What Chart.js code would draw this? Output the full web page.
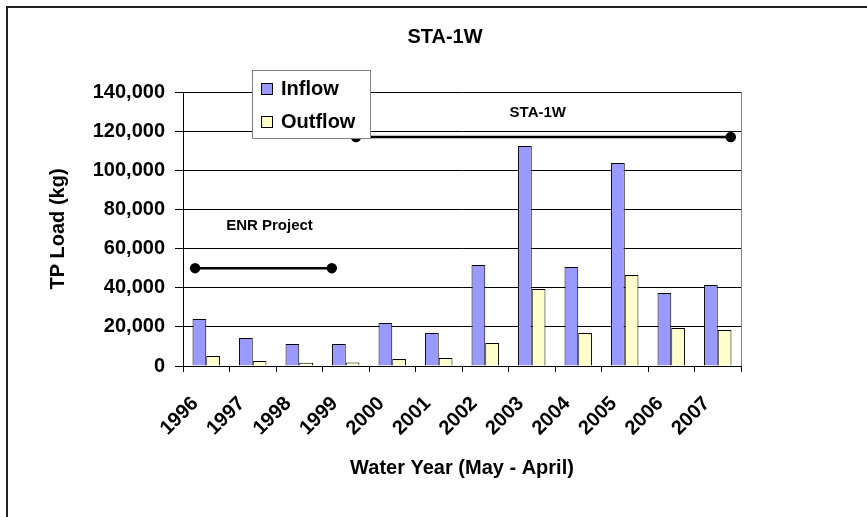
<!DOCTYPE html>
<html>
<head>
<meta charset="utf-8">
<script src="https://cdn.jsdelivr.net/npm/chart.js@4"></script>
<style>
  body { margin: 0; background: #fff; }
  #wrap { width: 867px; height: 517px; }
</style>
</head>
<body>
<div id="wrap"><canvas id="stachart" width="867" height="517"></canvas></div>
<script>
// water years (May - April)
const years = ['1996', '1997', '1998', '1999', '2000', '2001', '2002', '2003', '2004', '2005', '2006', '2007'];
// TP load in kg
const inflow = [24000, 14300, 11200, 11200, 22000, 16900, 51600, 112400, 50600, 103700, 37300, 41400];
const outflow = [5100, 2600, 1700, 1800, 3600, 4100, 11800, 39300, 16900, 46500, 19400, 18400];

// period bars drawn over the chart (x in water years, y in kg)
const enrPeriod = [{x: 1995.76, y: 50000}, {x: 1998.7, y: 50000}];
const staPeriod = [{x: 1999.22, y: 117000}, {x: 2007.28, y: 117000}];
const periodLabels = [
  {text: 'ENR Project', x: 1997.36, y: 71500},
  {text: 'STA-1W', x: 2003.13, y: 129300}
];

const yTicks = [0, 20000, 40000, 60000, 80000, 100000, 120000, 140000];

const FONT = 'Arial, "Liberation Sans", sans-serif';

// year -> position on the category axis (1996 sits at index 0)
const yearIdx = yr => yr - Number(years[0]);
const onAxis = pts => pts.map(p => ({x: yearIdx(p.x), y: p.y}));

// frame, title, legend box and the period labels
const extras = {
  id: 'extras',
  afterDraw(chart) {
    const c = chart.ctx;
    const a = chart.chartArea;
    c.save();
    // outer frame (left + top only, rest is cut off in the original)
    c.strokeStyle = '#222';
    c.lineWidth = 2;
    c.beginPath();
    c.moveTo(7, 517);
    c.lineTo(7, 7);
    c.lineTo(867, 7);
    c.stroke();
    // plot area right edge
    c.strokeStyle = '#808080';
    c.lineWidth = 1;
    c.beginPath();
    c.moveTo(a.right + 0.5, a.top);
    c.lineTo(a.right + 0.5, a.bottom);
    c.stroke();

    // title
    c.fillStyle = '#000';
    c.font = 'bold 20px ' + FONT;
    c.textAlign = 'center';
    c.textBaseline = 'middle';
    c.fillText('STA-1W', 445, 37);

    // period labels
    const xs = chart.scales.x, ys = chart.scales.y;
    c.font = 'bold 15px ' + FONT;
    periodLabels.forEach(p => {
      c.fillText(p.text, xs.getPixelForValue(yearIdx(p.x)), ys.getPixelForValue(p.y));
    });

    // legend
    const lx = a.left + 69, ly = a.top - 22, lw = 118, lh = 68;
    c.fillStyle = '#fff';
    c.fillRect(lx, ly, lw, lh);
    c.strokeStyle = '#808080';
    c.strokeRect(lx + 0.5, ly + 0.5, lw, lh);
    c.font = 'bold 20px ' + FONT;
    c.textAlign = 'left';
    chart.data.datasets.filter(d => d.type === 'bar').forEach((d, i) => {
      const cy = ly + 19 + i * 33;
      c.fillStyle = d.backgroundColor;
      c.fillRect(lx + 9, cy - 6, 12, 12);
      c.strokeStyle = '#000';
      c.strokeRect(lx + 9.5, cy - 5.5, 11, 11);
      c.fillStyle = '#000';
      c.fillText(d.label, lx + 29, cy);
    });
    c.restore();
  }
};

new Chart(document.getElementById('stachart').getContext('2d'), {
  type: 'bar',
  data: {
    labels: years,
    datasets: [
      {
        type: 'bar', label: 'Inflow', data: inflow,
        backgroundColor: '#9999FF', borderColor: '#000', borderWidth: 1,
        categoryPercentage: 0.59, barPercentage: 1
      },
      {
        type: 'bar', label: 'Outflow', data: outflow,
        backgroundColor: '#FFFFCC', borderColor: '#000', borderWidth: 1,
        categoryPercentage: 0.59, barPercentage: 1
      },
      {
        type: 'line', label: 'ENR Project', data: onAxis(enrPeriod), parsing: false,
        borderColor: '#000', backgroundColor: '#000', borderWidth: 2.5,
        pointRadius: 4, pointHoverRadius: 4
      },
      {
        type: 'line', label: 'STA-1W', data: onAxis(staPeriod), parsing: false,
        borderColor: '#000', backgroundColor: '#000', borderWidth: 2.5,
        pointRadius: 4, pointHoverRadius: 4
      }
    ]
  },
  options: {
    responsive: false,
    animation: false,
    layout: { padding: { top: 92, right: 126, left: 0, bottom: 0 } },
    plugins: {
      legend: { display: false },
      title: { display: false },
      tooltip: { enabled: false }
    },
    scales: {
      x: {
        type: 'category',
        grid: { drawOnChartArea: false, drawTicks: true, tickLength: 6, color: '#000' },
        border: { color: '#000', width: 1 },
        ticks: {
          color: '#000', font: { family: FONT, size: 20, weight: 'bold' },
          minRotation: 45, maxRotation: 45, autoSkip: false, padding: 20, labelOffset: -11
        },
        title: {
          display: true, text: 'Water Year (May - April)', color: '#000',
          font: { family: FONT, size: 20, weight: 'bold' },
          padding: { top: 0, bottom: 37 }
        },
        afterFit(s) { s.height = 151; }
      },
      y: {
        min: 0, max: 140000,
        afterBuildTicks(s) { s.ticks = yTicks.map(v => ({value: v})); },
        grid: { color: '#000', lineWidth: 1, tickLength: 8 },
        border: { color: '#000', width: 1 },
        ticks: {
          color: '#000', padding: 10,
          font: { family: FONT, size: 20, weight: 'bold' },
          callback: v => v.toLocaleString('en-US')
        },
        title: {
          display: true, text: 'TP Load (kg)', color: '#000',
          font: { family: FONT, size: 20, weight: 'bold' },
          padding: { top: 46, bottom: 0 }
        },
        afterFit(s) { s.width = 183; }
      }
    }
  },
  plugins: [extras]
});
</script>
</body>
</html>
